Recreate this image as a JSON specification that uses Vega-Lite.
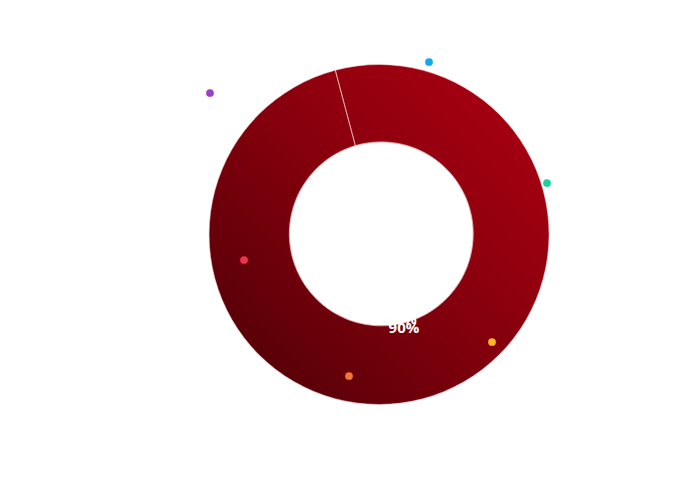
{
  "$schema": "https://vega.github.io/schema/vega-lite/v6.json",
  "width": 687,
  "height": 479,
  "autosize": {"type": "fit", "contains": "padding"},
  "padding": {"left": 71, "right": 0, "top": 0, "bottom": 10},
  "background": "white",
  "config": {"view": {"stroke": null}},
  "layer": [
    {
      "data": {"values": [
        {"label": "70%", "value": 70, "order": 1, "one": 1},
        {"label": "50%", "value": 50, "order": 2, "one": 1},
        {"label": "30%", "value": 30, "order": 3, "one": 1},
        {"label": "15%", "value": 15, "order": 4, "one": 1},
        {"label": "5%", "value": 5, "order": 5, "one": 1},
        {"label": "90%", "value": 90, "order": 6, "one": 1}
      ]},
      "encoding": {
        "theta": {"field": "one", "type": "quantitative", "stack": true, "scale": {"range": [-0.26, 6.023]}},
        "order": {"field": "order"}
      },
      "layer": [
        {
          "mark": {
            "type": "arc",
            "stroke": "#f0d0d0",
            "strokeWidth": 0.6,
            "fill": {"gradient": "linear", "x1": 0, "y1": 1, "x2": 1, "y2": 0,
              "stops": [{"offset": 0, "color": "#4a0006"}, {"offset": 0.6, "color": "#8e000e"}, {"offset": 1, "color": "#b00012"}]}
          },
          "encoding": {
            "radius": {"field": "value", "type": "quantitative", "scale": {"domain": [5, 90], "range": [92, 170], "zero": false}, "legend": null}
          }
        },
        {
          "mark": {"type": "text", "color": "white", "font": "Open Sans", "fontWeight": "bold", "fontSize": 15},
          "encoding": {
            "radius": {"field": "value", "type": "quantitative", "scale": {"domain": [5, 90], "range": [56, 97], "zero": false}},
            "text": {"field": "label"}
          }
        }
      ],
      "resolve": {"scale": {"radius": "independent"}}
    },
    {
      "data": {"values": [
        {"x": 210, "y": 93, "c": "#9b3fc4"},
        {"x": 429, "y": 62, "c": "#10a8e8"},
        {"x": 547, "y": 183, "c": "#1ccf9e"},
        {"x": 244, "y": 260, "c": "#ee3350"},
        {"x": 492, "y": 342, "c": "#fbb822"},
        {"x": 349, "y": 376, "c": "#f47634"}
      ]},
      "mark": {"type": "point", "filled": true, "opacity": 1, "size": 60},
      "encoding": {
        "x": {"field": "x", "type": "quantitative", "scale": {"domain": [71, 687]}, "axis": null},
        "y": {"field": "y", "type": "quantitative", "scale": {"domain": [0, 469], "reverse": true}, "axis": null},
        "color": {"field": "c", "type": "nominal", "scale": null}
      }
    }
  ]
}
